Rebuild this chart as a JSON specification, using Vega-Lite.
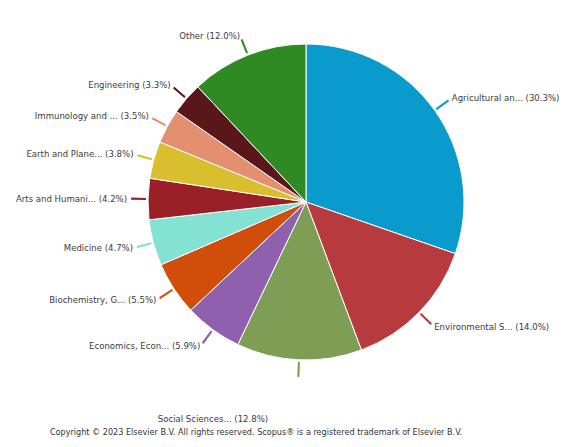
{
  "$schema": "https://vega.github.io/schema/vega-lite/v6.json",
  "width": 528,
  "height": 404,
  "autosize": {"type": "none"},
  "padding": {"left": 42, "top": 0, "right": 0, "bottom": 43},
  "background": "white",
  "config": {"view": {"stroke": null}, "font": "DejaVu Sans Condensed, sans-serif"},
  "title": {
    "text": "Copyright © 2023 Elsevier B.V. All rights reserved. Scopus® is a registered trademark of Elsevier B.V.",
    "orient": "bottom",
    "anchor": "middle",
    "dx": -50,
    "offset": 5,
    "fontSize": 9,
    "fontWeight": "normal",
    "color": "#333333"
  },
  "data": {
    "values": [
      {"idx": 1, "name": "Agricultural an...", "value": 30.3},
      {"idx": 2, "name": "Environmental S...", "value": 14.0},
      {"idx": 3, "name": "Social Sciences...", "value": 12.8},
      {"idx": 4, "name": "Economics, Econ...", "value": 5.9},
      {"idx": 5, "name": "Biochemistry, G...", "value": 5.5},
      {"idx": 6, "name": "Medicine", "value": 4.7},
      {"idx": 7, "name": "Arts and Humani...", "value": 4.2},
      {"idx": 8, "name": "Earth and Plane...", "value": 3.8},
      {"idx": 9, "name": "Immunology and ...", "value": 3.5},
      {"idx": 10, "name": "Engineering", "value": 3.3},
      {"idx": 11, "name": "Other", "value": 12.0}
    ]
  },
  "transform": [
    {"window": [{"op": "sum", "field": "value", "as": "cum"}], "sort": [{"field": "idx"}], "frame": [null, 0]},
    {"calculate": "datum.cum - datum.value", "as": "t0"},
    {"calculate": "datum.cum - datum.value / 2", "as": "mid"},
    {"calculate": "datum.mid - 0.1", "as": "l0"},
    {"calculate": "datum.mid + 0.1", "as": "l1"},
    {"calculate": "datum.name + ' (' + format(datum.value, '.1f') + '%)'", "as": "label"}
  ],
  "encoding": {
    "color": {
      "field": "name",
      "type": "nominal",
      "legend": null,
      "scale": {
        "domain": ["Agricultural an...", "Environmental S...", "Social Sciences...", "Economics, Econ...", "Biochemistry, G...", "Medicine", "Arts and Humani...", "Earth and Plane...", "Immunology and ...", "Engineering", "Other"],
        "range": ["#0a9bcd", "#b73a3f", "#7e9e55", "#8e60ae", "#d04e0a", "#84e2d2", "#9a2027", "#d9be2e", "#e48f70", "#5a1719", "#2f8a24"]
      }
    }
  },
  "layer": [
    {
      "mark": {"type": "arc", "outerRadius": 158, "stroke": "white", "strokeWidth": 1},
      "encoding": {
        "theta": {"field": "t0", "type": "quantitative", "stack": null, "scale": {"domain": [0, 100]}},
        "theta2": {"field": "cum"}
      }
    },
    {
      "mark": {"type": "arc", "innerRadius": 160, "outerRadius": 175},
      "encoding": {
        "theta": {"field": "l0", "type": "quantitative", "stack": null, "scale": {"domain": [0, 100]}},
        "theta2": {"field": "l1"}
      }
    },
    {
      "transform": [{"filter": "datum.mid < 45"}],
      "mark": {"type": "text", "radius": 179, "align": "left", "baseline": "middle", "fontSize": 9.5},
      "encoding": {
        "theta": {"field": "mid", "type": "quantitative", "stack": null, "scale": {"domain": [0, 100]}},
        "text": {"field": "label"},
        "color": {"value": "#3c3c3c"}
      }
    },
    {
      "transform": [{"filter": "datum.mid >= 45 && datum.mid < 55"}],
      "mark": {"type": "text", "radius": 179, "align": "right", "baseline": "top", "dx": -30, "dy": 33, "fontSize": 9.5},
      "encoding": {
        "theta": {"field": "mid", "type": "quantitative", "stack": null, "scale": {"domain": [0, 100]}},
        "text": {"field": "label"},
        "color": {"value": "#3c3c3c"}
      }
    },
    {
      "transform": [{"filter": "datum.mid >= 55"}],
      "mark": {"type": "text", "radius": 179, "align": "right", "baseline": "middle", "fontSize": 9.5},
      "encoding": {
        "theta": {"field": "mid", "type": "quantitative", "stack": null, "scale": {"domain": [0, 100]}},
        "text": {"field": "label"},
        "color": {"value": "#3c3c3c"}
      }
    }
  ]
}
